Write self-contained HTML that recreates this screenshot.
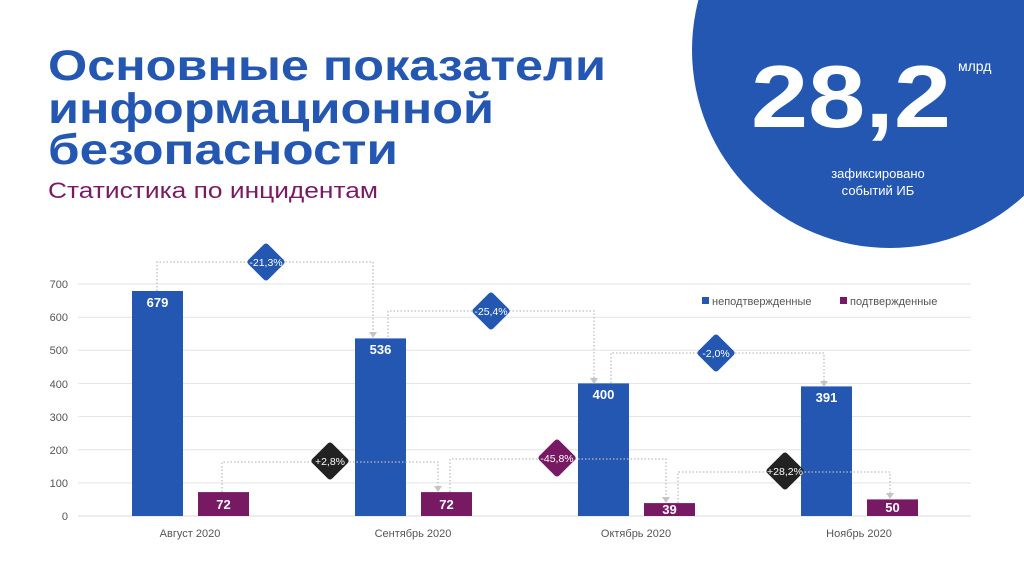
<!DOCTYPE html>
<html><head><meta charset="utf-8"><style>
html,body{margin:0;padding:0;background:#fff;}
svg{display:block;font-family:"Liberation Sans","DejaVu Sans",sans-serif;}
</style></head><body>
<svg width="1024" height="576" viewBox="0 0 1024 576" xmlns="http://www.w3.org/2000/svg">
<rect width="1024" height="576" fill="#fff"/>
<circle cx="890" cy="50" r="198" fill="#2457b1"/>
<text x="851" y="127" font-size="88" font-weight="bold" fill="#fff" text-anchor="middle" textLength="200" lengthAdjust="spacingAndGlyphs">28,2</text>
<text x="958" y="71" font-size="14" fill="#fff">млрд</text>
<text x="878" y="178" font-size="13" fill="#fff" text-anchor="middle">зафиксировано</text>
<text x="878" y="195" font-size="13" fill="#fff" text-anchor="middle">событий ИБ</text>

<g font-weight="bold" fill="#2457b1" font-size="43">
<text x="48" y="80" textLength="558" lengthAdjust="spacingAndGlyphs">Основные показатели</text>
<text x="48" y="123" textLength="446" lengthAdjust="spacingAndGlyphs">информационной</text>
<text x="48" y="164" textLength="350" lengthAdjust="spacingAndGlyphs">безопасности</text>
</g>
<text x="48" y="198" font-size="22" fill="#7a1a64" textLength="330" lengthAdjust="spacingAndGlyphs">Статистика по инцидентам</text>

<g stroke="#e3e3e3" stroke-width="1">
<line x1="78" x2="971" y1="284" y2="284"/><line x1="78" x2="971" y1="317.2" y2="317.2"/>
<line x1="78" x2="971" y1="350.3" y2="350.3"/><line x1="78" x2="971" y1="383.4" y2="383.4"/>
<line x1="78" x2="971" y1="416.6" y2="416.6"/><line x1="78" x2="971" y1="449.7" y2="449.7"/>
<line x1="78" x2="971" y1="482.9" y2="482.9"/><line x1="78" x2="971" y1="516" y2="516" stroke="#d8d8d8"/>
</g>
<g font-size="11" fill="#555" text-anchor="end">
<text x="68" y="288">700</text><text x="68" y="321">600</text><text x="68" y="354">500</text>
<text x="68" y="388">400</text><text x="68" y="421">300</text><text x="68" y="454">200</text>
<text x="68" y="487">100</text><text x="68" y="520">0</text>
</g>
<g font-size="11" fill="#555" text-anchor="middle">
<text x="190" y="537">Август 2020</text><text x="413" y="537">Сентябрь 2020</text>
<text x="636" y="537">Октябрь 2020</text><text x="859" y="537">Ноябрь 2020</text>
</g>

<g fill="#2457b1">
<rect x="132" y="291" width="51" height="225"/>
<rect x="355" y="338.4" width="51" height="177.6"/>
<rect x="578" y="383.4" width="51" height="132.6"/>
<rect x="801" y="386.4" width="51" height="129.6"/>
</g>
<g fill="#781a63">
<rect x="198" y="492.1" width="51" height="23.9"/>
<rect x="421" y="492.1" width="51" height="23.9"/>
<rect x="644" y="503.1" width="51" height="12.9"/>
<rect x="867" y="499.4" width="51" height="16.6"/>
</g>
<g font-size="13" font-weight="bold" fill="#fff" text-anchor="middle">
<text x="157.5" y="307">679</text><text x="380.5" y="354">536</text>
<text x="603.5" y="399">400</text><text x="826.5" y="402">391</text>
<text x="223.5" y="509">72</text><text x="446.5" y="509">72</text>
<text x="669.5" y="514">39</text><text x="892.5" y="512">50</text>
</g>

<g fill="none" stroke="#bdbdbd" stroke-width="1.3" stroke-dasharray="1.5 2">
<polyline points="157,291 157,262 373,262 373,332"/>
<polyline points="388,337 388,311 594,311 594,378"/>
<polyline points="611,383 611,353 824,353 824,381"/>
<polyline points="222,492 222,462 438,462 438,486"/>
<polyline points="450,492 450,459 666,459 666,497"/>
<polyline points="678,503 678,472 890,472 890,493"/>
</g>
<g fill="#c4c4c4">
<polygon points="369,332 377,332 373,338"/><polygon points="590,378 598,378 594,384"/>
<polygon points="820,381 828,381 824,387"/><polygon points="434,486 442,486 438,492"/>
<polygon points="662,497 670,497 666,503"/><polygon points="886,493 894,493 890,499"/>
</g>

<g font-size="10.5" fill="#fff" text-anchor="middle">
<rect x="252" y="248" width="28" height="28" rx="3" transform="rotate(45 266 262)" fill="#2457b1"/>
<text x="266" y="266">-21,3%</text>
<rect x="477" y="297" width="28" height="28" rx="3" transform="rotate(45 491 311)" fill="#2457b1"/>
<text x="491" y="315">-25,4%</text>
<rect x="702" y="339" width="28" height="28" rx="3" transform="rotate(45 716 353)" fill="#2457b1"/>
<text x="716" y="357">-2,0%</text>
<rect x="316" y="447" width="28" height="28" rx="3" transform="rotate(45 330 461)" fill="#222"/>
<text x="330" y="465">+2,8%</text>
<rect x="543" y="444" width="28" height="28" rx="3" transform="rotate(45 557 458)" fill="#781a63"/>
<text x="557" y="462">-45,8%</text>
<rect x="771" y="457" width="28" height="28" rx="3" transform="rotate(45 785 471)" fill="#222"/>
<text x="785" y="475">+28,2%</text>
</g>

<rect x="702" y="297" width="7" height="7" fill="#2457b1"/>
<text x="712" y="305" font-size="11" fill="#555">неподтвержденные</text>
<rect x="840" y="297" width="7" height="7" fill="#781a63"/>
<text x="850" y="305" font-size="11" fill="#555">подтвержденные</text>
</svg>
</body></html>
